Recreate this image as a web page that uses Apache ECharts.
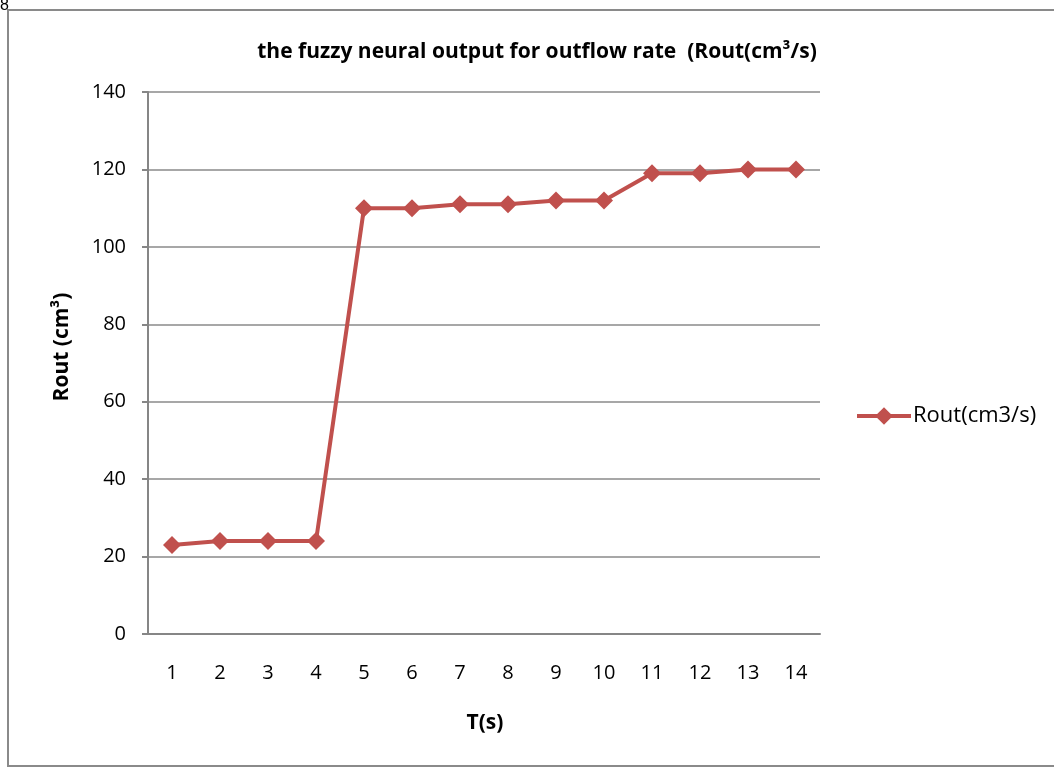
<!DOCTYPE html>
<html><head><meta charset="utf-8">
<script src="https://cdn.jsdelivr.net/npm/echarts@6/dist/echarts.min.js"></script>
<style>html,body{margin:0;padding:0;background:#fff}#c{width:1054px;height:767px}</style>
</head><body><div id="c"></div>
<script>
const categories = ['1','2','3','4','5','6','7','8','9','10','11','12','13','14'];
const routValues = [23, 24, 24, 24, 110, 110, 111, 111, 112, 112, 119, 119, 120, 120];
const seriesName = 'Rout(cm3/s)';
const titleText = 'the fuzzy neural output for outflow rate  (Rout(cm\u00b3/s)';
const xTitle = 'T(s)';
const yTitle = 'Rout (cm\u00b3)';
const FONT = '"Open Sans", "Liberation Sans", sans-serif';

const chart = echarts.init(document.getElementById('c'), null, {renderer: 'canvas'});
chart.setOption({
  animation: false,
  backgroundColor: '#fff',
  title: {
    text: titleText, left: 532, top: 37, textAlign: 'center',
    textStyle: {fontFamily: FONT, fontSize: 21, fontWeight: 'bold', color: '#000'}
  },
  graphic: [
    {type: 'rect', shape: {x: 8, y: 10, width: 1060, height: 756}, style: {fill: 'none', stroke: '#8a8a8a', lineWidth: 2}, silent: true, z: 100},
    {type: 'text', left: 0, top: -2, style: {text: '8', font: '16px "Liberation Sans", sans-serif', fill: '#000'}, z: 101},
    {type: 'text', x: 485, y: 723, style: {text: xTitle, font: 'bold 21px ' + FONT, fill: '#000', textAlign: 'center', textVerticalAlign: 'middle'}},
    {type: 'text', x: 62, y: 347, rotation: Math.PI/2, style: {text: yTitle, font: 'bold 21px ' + FONT, fill: '#000', textAlign: 'center', textVerticalAlign: 'middle'}}
  ],
  legend: {
    data: [{name: seriesName, lineStyle: {width: 4, color: '#C0504D'}, itemStyle: {color: '#C0504D'}}],
    left: 850, top: 400, itemWidth: 54, itemHeight: 22, itemGap: 4,
    lineStyle: {width: 4},
    textStyle: {fontFamily: FONT, fontSize: 22, color: '#000', padding: [0, 0, 0, -3]}
  },
  grid: {left: 148, right: 234, top: 92, bottom: 133, containLabel: false},
  xAxis: {
    type: 'category', data: categories, boundaryGap: true,
    axisLine: {lineStyle: {color: '#868686', width: 2}},
    axisTick: {show: false},
    axisLabel: {fontFamily: FONT, fontSize: 20, color: '#000', margin: 29}
  },
  yAxis: {
    type: 'value', min: 0, max: 140, interval: 20,
    axisLine: {show: true, lineStyle: {color: '#868686', width: 2}},
    axisTick: {show: true, length: 6, lineStyle: {color: '#868686', width: 2}},
    axisLabel: {fontFamily: FONT, fontSize: 20, color: '#000', margin: 22},
    splitLine: {lineStyle: {color: '#8a8a8a', width: 1.5}}
  },
  series: [{
    name: seriesName, type: 'line', data: routValues,
    symbol: 'diamond', symbolSize: 18,
    lineStyle: {color: '#C0504D', width: 4},
    itemStyle: {color: '#C0504D'}
  }]
});
</script></body></html>
